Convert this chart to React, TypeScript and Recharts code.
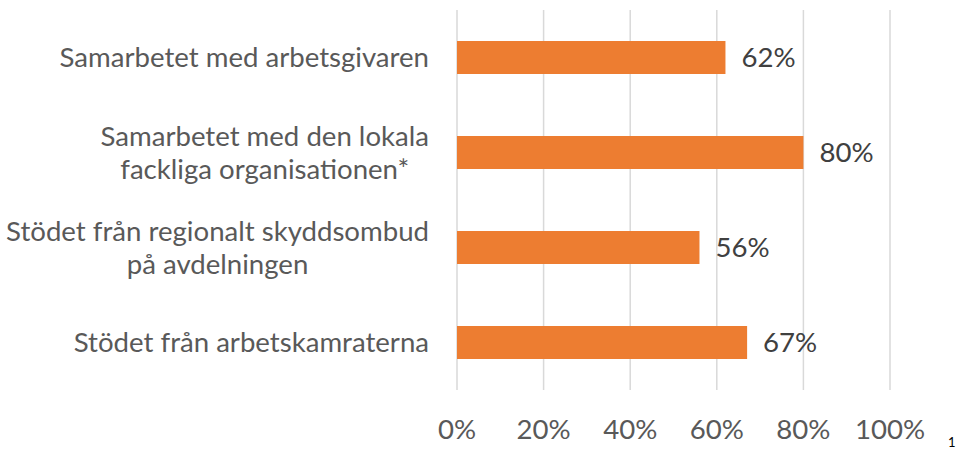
import { BarChart, Bar, XAxis, YAxis, CartesianGrid, LabelList } from "recharts";

const categories = [
  "Samarbetet med arbetsgivaren",
  "Samarbetet med den lokala\nfackliga organisationen*",
  "Stödet från regionalt skyddsombud\npå avdelningen",
  "Stödet från arbetskamraterna",
];
const values = [62, 80, 56, 67];
const xTicks = [0, 20, 40, 60, 80, 100];

const data = categories.map((name, i) => ({ name, value: values[i] }));

const FONT = "Lato, 'Open Sans', sans-serif";
const FONT_SIZE = 27.6;
const LINE_H = 33;

let canvas: HTMLCanvasElement | null = null;
function textWidth(s: string) {
  if (!canvas) canvas = document.createElement("canvas");
  const ctx = canvas.getContext("2d");
  if (!ctx) return s.length * FONT_SIZE * 0.5;
  ctx.font = `${FONT_SIZE}px Lato`;
  return ctx.measureText(s).width;
}

/* eslint-disable @typescript-eslint/no-explicit-any */
const CategoryTick = ({ x, y, payload }: any) => {
  const lines = String(payload.value).split("\n");
  const maxW = Math.max(...lines.map(textWidth));
  const cx = x - maxW / 2;
  return (
    <g>
      {lines.map((line, i) => (
        <text key={i} x={cx} y={y - 1 + (i - (lines.length - 1) / 2) * LINE_H}
              textAnchor="middle" dominantBaseline="central"
              fill="#595959" fontSize={FONT_SIZE} fontFamily={FONT}>
          {line}
        </text>
      ))}
    </g>
  );
};
/* eslint-enable @typescript-eslint/no-explicit-any */

export default function App() {
  return (
    <div style={{ position: "absolute", left: 0, top: 0, width: 962, height: 451, background: "#fff" }}>
      <BarChart width={962} height={451} data={data} layout="vertical"
                margin={{ top: 10, right: 72, bottom: 0, left: 0 }}>
        <CartesianGrid horizontal={false} stroke="#D9D9D9" strokeWidth={1.5} />
        <XAxis type="number" domain={[0, 100]} ticks={xTicks} height={61}
               axisLine={false} tickLine={false} tickSize={0} tickMargin={29}
               tickFormatter={(v) => `${v}%`}
               tick={{ fill: "#595959", fontSize: FONT_SIZE, fontFamily: FONT }} />
        <YAxis type="category" dataKey="name" width={457}
               axisLine={false} tickLine={false} tickSize={0} tickMargin={28}
               tick={<CategoryTick />} />
        <Bar dataKey="value" fill="#ED7D31" barSize={33} isAnimationActive={false}>
          <LabelList dataKey="value" position="right" offset={16}
                     formatter={(v: any) => `${v}%`}
                     fill="#404040" fontSize={FONT_SIZE} fontFamily={FONT} />
        </Bar>
      </BarChart>
      <span style={{ position: "absolute", left: 948, top: 434, fontSize: 13,
                     fontFamily: FONT, color: "#000" }}>1</span>
    </div>
  );
}
